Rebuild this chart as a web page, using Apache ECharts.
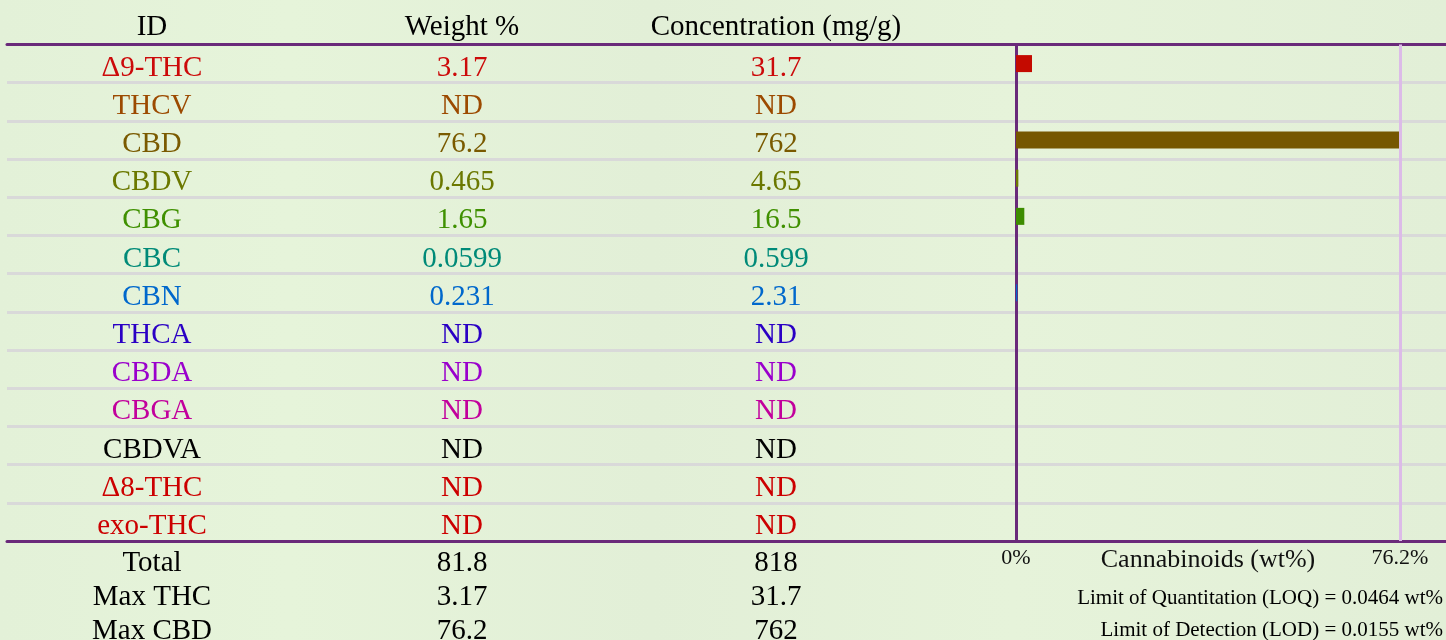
<!DOCTYPE html>
<html><head><meta charset="utf-8">
<script src="https://cdn.jsdelivr.net/npm/echarts@6/dist/echarts.min.js"></script>
<style>html,body{margin:0;padding:0;background:#e5f2d9}#c{width:1446px;height:640px}</style>
</head><body><div id="c"></div>
<script>
const compounds = ['Δ9-THC','THCV','CBD','CBDV','CBG','CBC','CBN','THCA','CBDA','CBGA','CBDVA','Δ8-THC','exo-THC'];
const weightPct = ['3.17','ND','76.2','0.465','1.65','0.0599','0.231','ND','ND','ND','ND','ND','ND'];
const concMgG = ['31.7','ND','762','4.65','16.5','0.599','2.31','ND','ND','ND','ND','ND','ND'];
const rowColors = ['#cc0a0a','#9c4a00','#7a5a00','#6b7800','#3f9000','#008a78','#0068cc','#2a00c4','#9a00cc','#c2009c','#000000','#cc0000','#cc0000'];
const barColors = ['#c40a00','#9c4a00','#765700','#6e7a00','#3d8c00','#008a78','#0068cc','#2a00c4','#9a00cc','#c2009c','#000000','#cc0000','#cc0000'];
const headers = ['ID','Weight %','Concentration (mg/g)'];
const footerNames = ['Total','Max THC','Max CBD'];
const footerWeight = ['81.8','3.17','76.2'];
const footerConc = ['818','31.7','762'];
const axisMax = 76.2;
const axisTitle = 'Cannabinoids (wt%)';
const limitNotes = ['Limit of Quantitation (LOQ) = 0.0464 wt%','Limit of Detection (LOD) = 0.0155 wt%'];

const FONT = '"Liberation Serif", "Times New Roman", serif';
const PURPLE = '#6a2a7a';
const colX = [152, 462, 776];
const barValues = weightPct.map(v => v === 'ND' ? null : parseFloat(v));

const chart = echarts.init(document.getElementById('c'), null, {renderer: 'canvas'});

const graphics = [];
headers.forEach((h, i) => graphics.push({type:'text', x: colX[i], y: 27, style:{text:h, font:'29px ' + FONT, fill:'#000', align:'center', verticalAlign:'middle'}}));
const footY = [563, 597, 631];
footerNames.forEach((n, i) => {
  [n, footerWeight[i], footerConc[i]].forEach((t, j) => graphics.push({type:'text', x: colX[j], y: footY[i], style:{text:t, font:'29px ' + FONT, fill:'#000', align:'center', verticalAlign:'middle'}}));
});
const noteY = [598, 630];
limitNotes.forEach((t, i) => graphics.push({type:'text', x: 1443, y: noteY[i], style:{text:t, font:'21px ' + FONT, fill:'#000', align:'right', verticalAlign:'middle'}}));

function colAxis(margin, fmt) {
  return {
    type:'category', gridIndex:2, data: compounds, inverse:true, position:'left',
    axisLine:{show:false}, axisTick:{show:false}, splitLine:{show:false},
    axisLabel:{show:true, interval:0, margin: margin, align:'center', fontSize:29, fontFamily:FONT,
      color:(v, i) => rowColors[i], formatter: fmt}
  };
}

chart.setOption({
  backgroundColor: {type:'linear', x:0, y:0, x2:1, y2:0, colorStops:[
    {offset:0, color:'#e3f1d8'},{offset:0.2, color:'#e6f4da'},{offset:0.45, color:'#e2efd7'},
    {offset:0.7, color:'#e6f3da'},{offset:1, color:'#e2efd7'}]},
  animation:false,
  graphic: graphics,
  grid:[
    {left:7, right:0, top:44.5, height:496.5, outerBoundsMode:'none', containLabel:false},
    {left:1016, width:384, top:44.5, height:496.5, outerBoundsMode:'none', containLabel:false},
    {left:1016, width:384, top:49, height:496.5, outerBoundsMode:'none', containLabel:false}
  ],
  xAxis:[
    {type:'value', gridIndex:0, min:0, max:1, position:'bottom', axisLine:{show:true, onZero:false, lineStyle:{color:PURPLE, width:3}}, axisTick:{show:false}, axisLabel:{show:false}, splitLine:{show:false}},
    {type:'value', gridIndex:0, min:0, max:1, position:'top', axisLine:{show:true, onZero:false, lineStyle:{color:PURPLE, width:3}}, axisTick:{show:false}, axisLabel:{show:false}, splitLine:{show:false}},
    {type:'value', gridIndex:1, min:0, max:axisMax, interval:axisMax, position:'bottom',
      axisLine:{show:false}, axisTick:{show:false}, splitLine:{show:false},
      axisLabel:{show:true, margin:6, fontSize:22, fontFamily:FONT, color:'#111', formatter:v => v + '%'},
      name: axisTitle, nameLocation:'middle', nameGap:6, nameMoveOverlap:false,
      nameTextStyle:{fontSize:26, fontFamily:FONT, color:'#111'}},
    {type:'value', gridIndex:2, min:0, max:1, show:false}
  ],
  yAxis:[
    {type:'category', gridIndex:0, data: compounds, inverse:true, axisLine:{show:false}, axisTick:{show:false}, axisLabel:{show:false},
      splitLine:{show:true, interval:0, lineStyle:{color:'#d9d9d9', width:3}}},
    {type:'category', gridIndex:1, data: compounds, inverse:true, position:'left',
      axisLine:{show:true, onZero:false, lineStyle:{color:PURPLE, width:3}}, axisTick:{show:false}, axisLabel:{show:false}, splitLine:{show:false}},
    colAxis(1016 - colX[0], v => v),
    colAxis(1016 - colX[1], (v, i) => weightPct[i]),
    colAxis(1016 - colX[2], (v, i) => concMgG[i])
  ],
  series:[{
    type:'bar', xAxisIndex:2, yAxisIndex:1, barWidth:17, silent:true,
    data: barValues.map((v, i) => ({value:v, itemStyle:{color:barColors[i]}})),
    markLine:{silent:true, symbol:['none','none'], label:{show:false},
      lineStyle:{color:'#dcbbe8', width:3, type:'solid'}, data:[{xAxis:axisMax}]}
  }]
});
</script></body></html>
